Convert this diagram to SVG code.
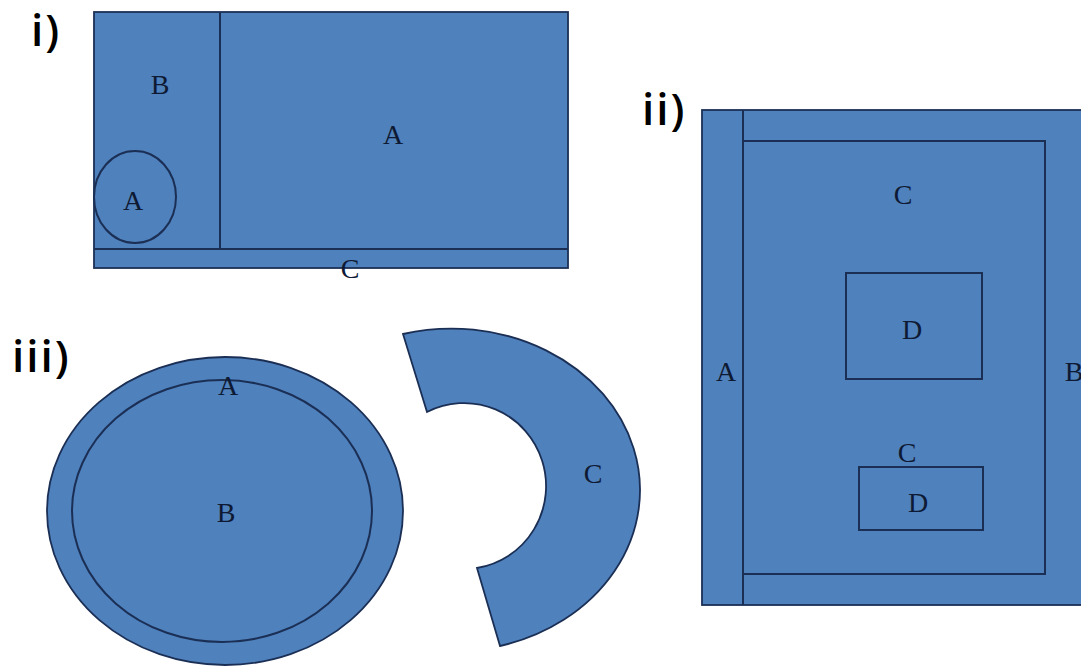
<svg xmlns="http://www.w3.org/2000/svg" width="1081" height="667" viewBox="0 0 1081 667">
<style>
.sh{fill:#4F81BD;stroke:#1B2F55;stroke-width:1.8}
.ln{fill:none;stroke:#1B2F55;stroke-width:2}
.lb{font-family:"Liberation Serif",serif;font-size:28px;fill:#0E1A33;text-anchor:middle}
.hd{font-family:"Open Sans","Liberation Sans",sans-serif;font-size:44px;font-weight:600;fill:#000;letter-spacing:2px}
</style>
<rect width="1081" height="667" fill="#fff"/>
<g id="panel-i">
<text class="hd" x="31" y="46">i)</text>
<rect class="sh" x="94" y="12" width="474" height="256"/>
<line class="ln" x1="220" y1="12" x2="220" y2="249"/>
<line class="ln" x1="94" y1="249" x2="568" y2="249"/>
<ellipse class="ln" cx="135" cy="197" rx="41" ry="46"/>
<text class="lb" x="160" y="94">B</text>
<text class="lb" x="393" y="144">A</text>
<text class="lb" x="133" y="210">A</text>
<text class="lb" x="350" y="278">C</text>
</g>
<g id="panel-ii">
<text class="hd" x="642" y="125">ii)</text>
<rect class="sh" x="702" y="110" width="400" height="495"/>
<line class="ln" x1="743" y1="110" x2="743" y2="605"/>
<rect class="ln" x="743" y="141" width="302" height="433"/>
<rect class="ln" x="846" y="273" width="136" height="106"/>
<rect class="ln" x="859" y="467" width="124" height="63"/>
<text class="lb" x="903" y="204">C</text>
<text class="lb" x="912" y="339">D</text>
<text class="lb" x="726" y="381">A</text>
<text class="lb" x="1074" y="381">B</text>
<text class="lb" x="907" y="462">C</text>
<text class="lb" x="918" y="512">D</text>
</g>
<g id="panel-iii">
<text class="hd" x="12" y="372">iii)</text>
<ellipse class="sh" cx="225" cy="511" rx="178" ry="154"/>
<ellipse class="ln" cx="222" cy="511" rx="150" ry="131"/>
<text class="lb" x="228" y="395">A</text>
<text class="lb" x="226" y="522">B</text>
<path class="sh" d="M 403 334 A 188 161 0 1 1 500 646 L 477 568 A 82 83 0 1 0 427 412 Z"/>
<text class="lb" x="593" y="483">C</text>
</g>
</svg>
